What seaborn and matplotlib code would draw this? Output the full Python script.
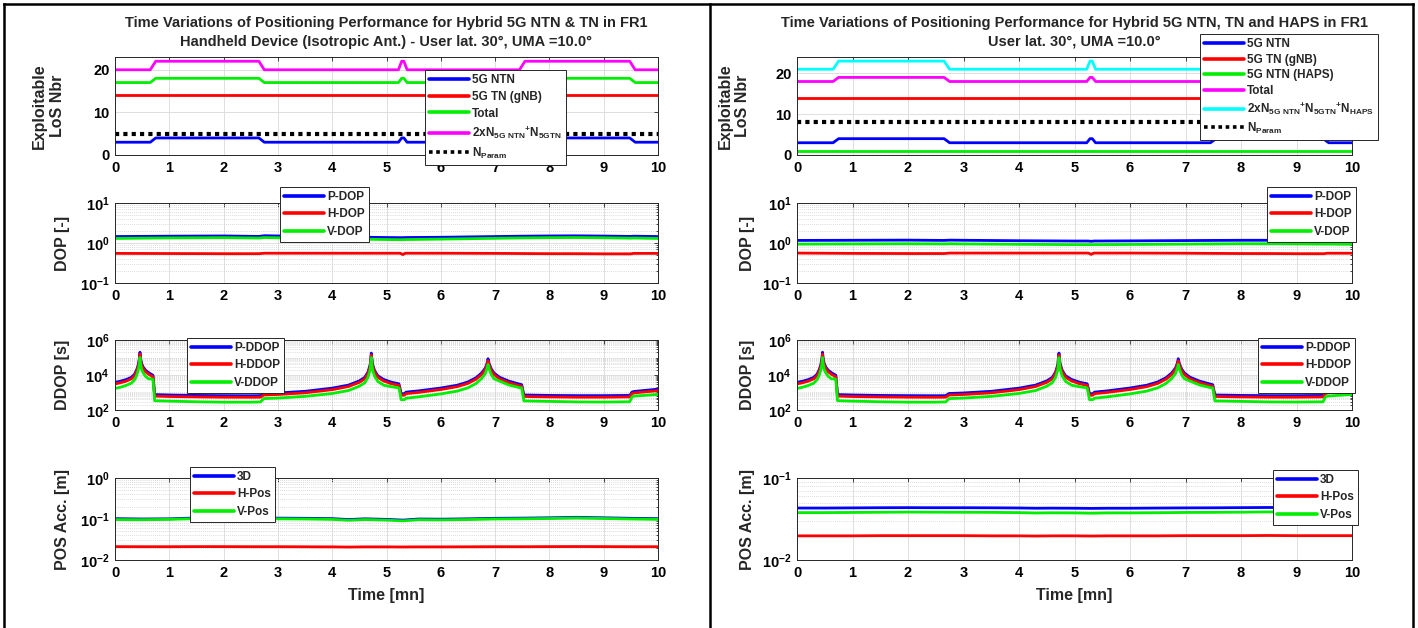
import numpy as np
import matplotlib
matplotlib.use("Agg")
import matplotlib.pyplot as plt
import seaborn as sns
from matplotlib import font_manager
from matplotlib.ticker import FixedLocator, LogLocator, FuncFormatter, NullFormatter
from matplotlib.lines import Line2D

# ---------------- data ----------------
# visible LoS counts (step transitions)
t_los = [0, 0.65, 0.75, 2.65, 2.75, 5.22, 5.28, 5.32, 5.38, 7.45, 7.55, 9.48, 9.58, 10]
ntn_los = [3, 3, 4, 4, 3, 3, 4, 4, 3, 3, 4, 4, 3, 3]
tn_los = [14] * 14
haps_los = [1] * 14
total_left = [17, 17, 18, 18, 17, 17, 18, 18, 17, 17, 18, 18, 17, 17]
twox_left = [20, 20, 22, 22, 20, 20, 22, 22, 20, 20, 22, 22, 20, 20]
total_right = [18, 18, 19, 19, 18, 18, 19, 19, 18, 18, 19, 19, 18, 18]
twox_right = [21, 21, 23, 23, 21, 21, 23, 23, 21, 21, 23, 23, 21, 21]
t_param = [0, 10]
n_param_left = [5, 5]
n_param_right = [8, 8]

# DOP
t_dop = [0, 1, 2, 2.65, 2.75, 3, 4, 5, 5.25, 5.3, 5.35, 6, 7, 7.5, 8, 8.5, 9, 9.5, 9.55, 10]
pdop_left = [1.45, 1.48, 1.50, 1.46, 1.52, 1.50, 1.43, 1.37, 1.36, 1.36, 1.37, 1.39, 1.45, 1.48, 1.50, 1.51, 1.49, 1.46, 1.48, 1.45]
vdop_left = [1.30, 1.34, 1.36, 1.33, 1.37, 1.35, 1.28, 1.22, 1.21, 1.21, 1.22, 1.25, 1.31, 1.34, 1.36, 1.37, 1.35, 1.32, 1.33, 1.30]
hdop_left = [0.55, 0.545, 0.54, 0.54, 0.555, 0.555, 0.555, 0.555, 0.555, 0.515, 0.555, 0.555, 0.55, 0.545, 0.54, 0.54, 0.535, 0.535, 0.55, 0.55]
pdop_right = [1.16, 1.17, 1.18, 1.16, 1.18, 1.17, 1.14, 1.12, 1.12, 1.10, 1.12, 1.13, 1.15, 1.16, 1.17, 1.17, 1.16, 1.15, 1.16, 1.15]
vdop_right = [0.94, 0.95, 0.96, 0.95, 0.96, 0.95, 0.93, 0.91, 0.91, 0.91, 0.91, 0.92, 0.94, 0.95, 0.96, 0.96, 0.95, 0.94, 0.94, 0.93]
hdop_right = [0.56, 0.55, 0.545, 0.545, 0.56, 0.56, 0.56, 0.56, 0.56, 0.52, 0.56, 0.56, 0.555, 0.55, 0.545, 0.545, 0.54, 0.54, 0.555, 0.555]

# DDOP
t_ddop = [0.00, 0.10, 0.20, 0.30, 0.36, 0.40, 0.43, 0.45, 0.46, 0.47,
          0.49, 0.52, 0.56, 0.62, 0.68, 0.70, 0.73, 1.00, 1.50, 2.00,
          2.50, 2.68, 2.74, 3.00, 3.50, 4.00, 4.30, 4.50, 4.60, 4.66,
          4.70, 4.72, 4.74, 4.78, 4.84, 4.95, 5.10, 5.20, 5.23, 5.27,
          5.33, 5.36, 5.60, 6.00, 6.30, 6.50, 6.65, 6.75, 6.82, 6.85,
          6.87, 6.89, 6.93, 6.98, 7.08, 7.25, 7.45, 7.49, 7.53, 8.00,
          8.50, 9.00, 9.48, 9.52, 9.56, 10.00]
p_ddop = [3800, 4400, 5400, 7300, 11000, 20000, 40000, 90000, 200000, 90000,
          45000, 28000, 19000, 13500, 10500, 9500, 760, 720, 680, 660,
          650, 660, 880, 940, 1170, 1770, 2650, 4600, 7300, 15000,
          40000, 180000, 45000, 18000, 9000, 5500, 3800, 3300, 3100, 850,
          850, 1050, 1250, 1800, 2600, 4000, 7000, 13000, 25000, 45000,
          85000, 45000, 22000, 13000, 7500, 4500, 3000, 2800, 720, 680,
          660, 660, 680, 1050, 1150, 1550]
h_ddop = [3100, 3600, 4400, 6000, 9000, 16500, 33000, 75000, 160000, 75000,
          37000, 23000, 15500, 11000, 8600, 7800, 620, 590, 560, 540,
          535, 540, 720, 770, 960, 1450, 2200, 3800, 6000, 12500,
          33000, 140000, 37000, 15000, 7400, 4500, 3100, 2700, 2550, 700,
          700, 860, 1020, 1480, 2150, 3300, 5800, 10500, 20500, 37000,
          65000, 37000, 18000, 10700, 6100, 3700, 2450, 2300, 590, 560,
          540, 540, 560, 860, 950, 1270]
v_ddop = [1700, 2000, 2500, 3400, 5300, 9500, 20000, 45000, 100000, 45000,
          21000, 13000, 8500, 6000, 6000, 5500, 340, 320, 295, 280,
          280, 290, 450, 480, 600, 880, 1300, 2300, 3600, 7500,
          20000, 100000, 22000, 8500, 4300, 2600, 2100, 1900, 1800, 390,
          390, 470, 570, 830, 1200, 1850, 3300, 6200, 12000, 22000,
          40000, 22000, 10500, 6100, 4500, 2700, 1900, 1800, 330, 310,
          290, 285, 295, 560, 620, 780]

# positioning accuracy
t_pos = [0, 0.5, 1, 1.5, 2, 2.5, 3, 3.5, 4, 4.3, 4.6, 5, 5.3, 5.6, 6, 6.5, 7, 7.5, 8, 8.5, 9, 9.5, 10]
pos3d_left = [0.102, 0.100, 0.101, 0.106, 0.107, 0.104, 0.105, 0.104, 0.102, 0.097, 0.101, 0.098, 0.094, 0.100, 0.099, 0.101, 0.104, 0.105, 0.107, 0.110, 0.107, 0.104, 0.102]
posv_left = [0.097, 0.096, 0.098, 0.102, 0.104, 0.101, 0.101, 0.100, 0.098, 0.093, 0.097, 0.094, 0.090, 0.096, 0.095, 0.097, 0.100, 0.101, 0.103, 0.106, 0.103, 0.100, 0.098]
posh_left = [0.0212, 0.0211, 0.0211, 0.0212, 0.0212, 0.0211, 0.0211, 0.0210, 0.0209, 0.0207, 0.0209, 0.0209, 0.0208, 0.0209, 0.0209, 0.0210, 0.0211, 0.0211, 0.0212, 0.0213, 0.0212, 0.0211, 0.0211]
pos3d_right = [0.0430, 0.0430, 0.0432, 0.0434, 0.0435, 0.0434, 0.0434, 0.0433, 0.0431, 0.0428, 0.0429, 0.0428, 0.0426, 0.0428, 0.0428, 0.0430, 0.0432, 0.0433, 0.0435, 0.0437, 0.0436, 0.0434, 0.0432]
posv_right = [0.0378, 0.0378, 0.0380, 0.0382, 0.0384, 0.0383, 0.0382, 0.0381, 0.0378, 0.0374, 0.0376, 0.0375, 0.0372, 0.0375, 0.0375, 0.0377, 0.0380, 0.0381, 0.0383, 0.0386, 0.0384, 0.0382, 0.0380]
posh_right = [0.0197, 0.0197, 0.0197, 0.0198, 0.0198, 0.0198, 0.0198, 0.0197, 0.0197, 0.0196, 0.0197, 0.0197, 0.0196, 0.0197, 0.0197, 0.0197, 0.0198, 0.0198, 0.0198, 0.0199, 0.0198, 0.0198, 0.0198]

x_ticks = list(range(11))

# ---------------- style ----------------
sns.set_theme(style="white")


def pick_font(names):
    for n in names:
        try:
            font_manager.findfont(font_manager.FontProperties(family=n), fallback_to_default=False)
            return n
        except Exception:
            pass
    return "DejaVu Sans"


FONT = pick_font(["Liberation Sans Narrow", "Liberation Sans", "Arial"])
plt.rcParams["font.family"] = [FONT, "DejaVu Sans"]
plt.rcParams["font.weight"] = "bold"
plt.rcParams["axes.labelweight"] = "bold"
plt.rcParams["axes.titleweight"] = "bold"
plt.rcParams["mathtext.fontset"] = "custom"
plt.rcParams["mathtext.rm"] = f"{FONT}:bold"
plt.rcParams["mathtext.bf"] = f"{FONT}:bold"
plt.rcParams["mathtext.it"] = f"{FONT}:bold"
plt.rcParams["mathtext.default"] = "bf"

BLUE, RED, GREEN, MAG, CYAN = "#0000ff", "#ff0000", "#00ee00", "#ff00ff", "#00ffff"
LW = 2.0

W, H = 1418, 628
fig = plt.figure(figsize=(W / 100, H / 100), dpi=100)
fig.patch.set_facecolor("white")

rows = [(57, 155), (203, 283), (340, 410), (478, 560)]
cols = [(115, 658), (797, 1352)]


def px_axes(left, top, right, bottom):
    return fig.add_axes([left / W, 1 - bottom / H, (right - left) / W, (bottom - top) / H])


log_fmt = FuncFormatter(lambda v, p: r"$\mathbf{10^{%d}}$" % int(round(np.log10(v))))


def style_axes(ax, log=False, decades=None):
    ax.set_xlim(0, 10)
    ax.xaxis.set_major_locator(FixedLocator(x_ticks))
    ax.set_xlabel("")
    if log:
        ax.set_yscale("log")
        ax.set_ylim(decades[0], decades[-1])
        ax.yaxis.set_major_locator(FixedLocator(decades))
        ax.yaxis.set_major_formatter(log_fmt)
        ax.yaxis.set_minor_locator(LogLocator(base=10, subs=np.arange(1, 10), numticks=50))
        ax.yaxis.set_minor_formatter(NullFormatter())
        ax.grid(True, which="minor", axis="y", color="#cfcfcf", lw=0.6, ls=(0, (1, 1.5)))
    ax.grid(True, which="major", color="#dedede", lw=0.7, ls="-")
    ax.set_axisbelow(True)
    ax.tick_params(axis="both", which="both", direction="in", top=True, right=True,
                   labelsize=10.5, color="#262626", labelcolor="black", width=0.6)
    ax.tick_params(which="major", length=3, pad=4)
    ax.tick_params(which="minor", length=1.8)
    for s in ax.spines.values():
        s.set_visible(True)
        s.set_color("#262626")
        s.set_linewidth(0.7)


def two_line_title(ax, first, second):
    # second line as the axes title, first line stacked just above it
    ax.set_title(second, fontsize=10.5, fontweight="bold", pad=8)
    ax.annotate(first, xy=(0.5, 1.0), xycoords="axes fraction", xytext=(0, 21.5),
                textcoords="offset points", ha="center", va="baseline",
                fontsize=10.5, fontweight="bold")


def place_legend(ax, x, y, fontsize=8.5, spacing=0.45):
    leg = ax.legend(loc="upper left", bbox_to_anchor=(x / W, 1 - y / H), bbox_transform=fig.transFigure,
                    borderaxespad=0, frameon=True, fancybox=False, edgecolor="#262626", framealpha=1,
                    fontsize=fontsize, handlelength=3.4, handletextpad=0.25, borderpad=0.35,
                    labelspacing=spacing)
    leg.get_frame().set_linewidth(0.7)
    for h in leg.get_lines():
        h.set_linewidth(2.6)
    leg.set_zorder(10)
    return leg


def line(ax, x, y, color, label, ls="-", lw=LW):
    sns.lineplot(x=x, y=y, color=color, label=label, ax=ax, lw=lw, linestyle=ls,
                 estimator=None, sort=False)


ylabel_kw = dict(fontsize=11.5, fontweight="bold", linespacing=1.25)

# ---------------- left column ----------------
L = cols[0]
ax = px_axes(L[0], rows[0][0], L[1], rows[0][1])
line(ax, t_los, ntn_los, BLUE, "5G NTN")
line(ax, t_los, tn_los, RED, "5G TN (gNB)")
line(ax, t_los, total_left, GREEN, "Total")
line(ax, t_los, twox_left, MAG, r"2xN$_{5G\ NTN}$$^{+}$N$_{5GTN}$")
line(ax, t_param, n_param_left, "black", r"N$_{Param}$", ls=(0, (1, 1)), lw=3)
style_axes(ax)
ax.set_ylim(0, 23)
ax.yaxis.set_major_locator(FixedLocator([0, 10, 20]))
ax.set_ylabel("Exploitable\nLoS Nbr", **ylabel_kw)
ax.yaxis.set_label_coords(-0.092, 0.5)
two_line_title(ax, "Time Variations of Positioning Performance for Hybrid 5G NTN & TN in FR1",
               "Handheld Device (Isotropic Ant.) - User lat. 30°, UMA =10.0°")
place_legend(ax, 425, 70, spacing=0.4)

ax = px_axes(L[0], rows[1][0], L[1], rows[1][1])
line(ax, t_dop, pdop_left, BLUE, "P-DOP")
line(ax, t_dop, hdop_left, RED, "H-DOP")
line(ax, t_dop, vdop_left, GREEN, "V-DOP")
style_axes(ax, log=True, decades=[0.1, 1, 10])
ax.set_ylabel("DOP [-]", **ylabel_kw)
ax.yaxis.set_label_coords(-0.082, 0.5)
place_legend(ax, 280, 187)

ax = px_axes(L[0], rows[2][0], L[1], rows[2][1])
line(ax, t_ddop, p_ddop, BLUE, "P-DDOP")
line(ax, t_ddop, h_ddop, RED, "H-DDOP")
line(ax, t_ddop, v_ddop, GREEN, "V-DDOP")
style_axes(ax, log=True, decades=[1e2, 1e4, 1e6])
ax.set_ylabel("DDOP [s]", **ylabel_kw)
ax.yaxis.set_label_coords(-0.082, 0.5)
place_legend(ax, 187, 338)

ax = px_axes(L[0], rows[3][0], L[1], rows[3][1])
line(ax, t_pos, pos3d_left, BLUE, "3D")
line(ax, t_pos, posh_left, RED, "H-Pos")
line(ax, t_pos, posv_left, GREEN, "V-Pos")
style_axes(ax, log=True, decades=[1e-2, 1e-1, 1e0])
ax.set_ylabel("POS Acc. [m]", **ylabel_kw)
ax.yaxis.set_label_coords(-0.082, 0.5)
ax.set_xlabel("Time [mn]", fontsize=11.5, fontweight="bold", labelpad=6)
place_legend(ax, 190, 467)

# ---------------- right column ----------------
R = cols[1]
ax = px_axes(R[0], rows[0][0], R[1], rows[0][1])
line(ax, t_los, ntn_los, BLUE, "5G NTN")
line(ax, t_los, tn_los, RED, "5G TN (gNB)")
line(ax, t_los, haps_los, GREEN, "5G NTN (HAPS)")
line(ax, t_los, total_right, MAG, "Total")
line(ax, t_los, twox_right, CYAN, r"2xN$_{5G\ NTN}$$^{+}$N$_{5GTN}$$^{+}$N$_{HAPS}$")
line(ax, t_param, n_param_right, "black", r"N$_{Param}$", ls=(0, (1, 1)), lw=3)
style_axes(ax)
ax.set_ylim(0, 24)
ax.yaxis.set_major_locator(FixedLocator([0, 10, 20]))
ax.set_ylabel("Exploitable\nLoS Nbr", **ylabel_kw)
ax.yaxis.set_label_coords(-0.084, 0.5)
two_line_title(ax, "Time Variations of Positioning Performance for Hybrid 5G NTN, TN and HAPS in FR1",
               "User lat. 30°, UMA =10.0°")
place_legend(ax, 1200, 34, spacing=0.3)

ax = px_axes(R[0], rows[1][0], R[1], rows[1][1])
line(ax, t_dop, pdop_right, BLUE, "P-DOP")
line(ax, t_dop, hdop_right, RED, "H-DOP")
line(ax, t_dop, vdop_right, GREEN, "V-DOP")
style_axes(ax, log=True, decades=[0.1, 1, 10])
ax.set_ylabel("DOP [-]", **ylabel_kw)
ax.yaxis.set_label_coords(-0.076, 0.5)
place_legend(ax, 1267, 187)

ax = px_axes(R[0], rows[2][0], R[1], rows[2][1])
line(ax, t_ddop, p_ddop, BLUE, "P-DDOP")
line(ax, t_ddop, h_ddop, RED, "H-DDOP")
line(ax, t_ddop, v_ddop, GREEN, "V-DDOP")
style_axes(ax, log=True, decades=[1e2, 1e4, 1e6])
ax.set_ylabel("DDOP [s]", **ylabel_kw)
ax.yaxis.set_label_coords(-0.076, 0.5)
place_legend(ax, 1258, 338)

ax = px_axes(R[0], rows[3][0], R[1], rows[3][1])
line(ax, t_pos, pos3d_right, BLUE, "3D")
line(ax, t_pos, posh_right, RED, "H-Pos")
line(ax, t_pos, posv_right, GREEN, "V-Pos")
style_axes(ax, log=True, decades=[1e-2, 1e-1])
ax.set_ylabel("POS Acc. [m]", **ylabel_kw)
ax.yaxis.set_label_coords(-0.076, 0.5)
ax.set_xlabel("Time [mn]", fontsize=11.5, fontweight="bold", labelpad=6)
place_legend(ax, 1273, 470)

# ---------------- panel frames ----------------
def frame_line(x0, y0, x1, y1):
    fig.add_artist(Line2D([x0 / W, x1 / W], [1 - y0 / H, 1 - y1 / H], color="black", lw=1.8,
                          transform=fig.transFigure, solid_capstyle="projecting"))


frame_line(4, 4, 1413, 4)
frame_line(4, 4, 4, 628)
frame_line(710, 4, 710, 628)
frame_line(1413, 4, 1413, 628)

fig.savefig("out.png", dpi=100, facecolor="white")
